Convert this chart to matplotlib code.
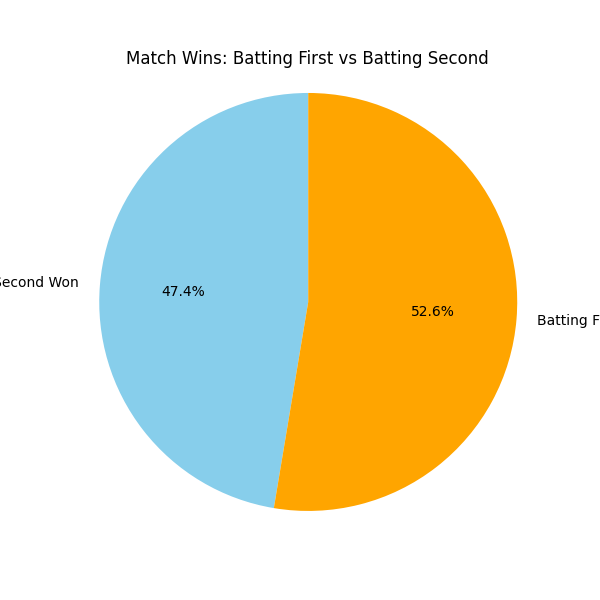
import matplotlib
matplotlib.use("Agg")
import matplotlib.pyplot as plt

# Match wins split by batting order
labels = ['Batting Second Won', 'Batting First Won']
wins = [9, 10]
colors = ['skyblue', 'orange']

fig, ax = plt.subplots(figsize=(6, 6), dpi=100)
ax.pie(wins, labels=labels, colors=colors, autopct='%1.1f%%', startangle=90)
ax.set_title('Match Wins: Batting First vs Batting Second')
ax.set_aspect('equal')
# view window
ax.set_xlim(-1.116, 1.109)
ax.set_ylim(-1.110, 1.100)
fig.savefig('out.png')
